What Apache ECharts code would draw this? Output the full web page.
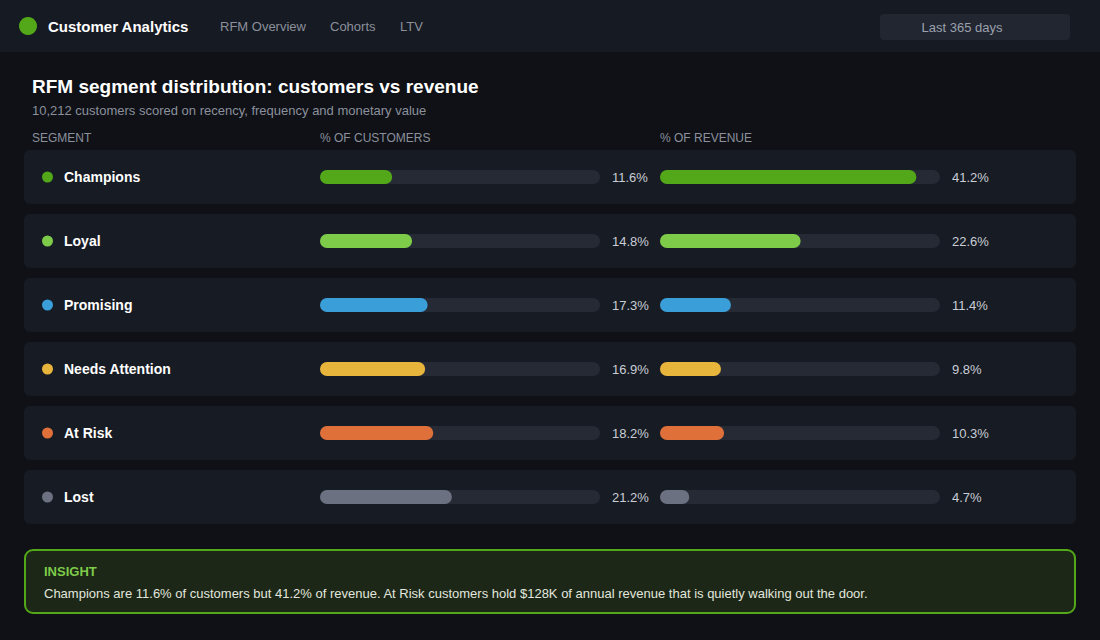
<!DOCTYPE html>
<html>
<head>
<meta charset="utf-8">
<title>RFM segment distribution</title>
<script src="https://cdn.jsdelivr.net/npm/echarts@6/dist/echarts.min.js"></script>
<style>
  html, body { margin: 0; padding: 0; background: #0f1116; }
  #chart { width: 1100px; height: 640px; }
</style>
</head>
<body>
<div id="chart"></div>
<script>
// data
var segments = ['Champions', 'Loyal', 'Promising', 'Needs Attention', 'At Risk', 'Lost'];
var customerPct = [11.6, 14.8, 17.3, 16.9, 18.2, 21.2];
var revenuePct = [41.2, 22.6, 11.4, 9.8, 10.3, 4.7];
var segmentColors = ['#52a818', '#7ecb4a', '#3a9fd8', '#e8b53c', '#e0703a', '#6b7180'];
var scaleMax = 45;
var navItems = ['RFM Overview', 'Cohorts', 'LTV'];

var FONT = '"Liberation Sans", Arial, Helvetica, sans-serif';

var chart = echarts.init(document.getElementById('chart'), null, { renderer: 'svg' });

// rich styles for the segment dots
var rich = { n: { color: '#ffffff', fontSize: 14, fontWeight: 'bold', fontFamily: FONT, padding: [0, 0, 0, 11] } };
segmentColors.forEach(function (c, i) {
  rich['c' + i] = { backgroundColor: c, width: 11, height: 11, borderRadius: 6 };
});

function pctLabels(arr) {
  return arr.map(function (v) { return v.toFixed(1) + '%'; });
}

function barGrid(left) {
  return { left: left, width: 280, top: 145, height: 384, outerBoundsMode: 'none', containLabel: false };
}

var trackStyle = { color: '#262a35', borderRadius: 7 };

function fillData(values) {
  return values.map(function (v, i) {
    return { value: v, itemStyle: { color: segmentColors[i], borderRadius: 7 } };
  });
}

var hiddenX = function (idx, max) {
  return { gridIndex: idx, type: 'value', min: 0, max: max, show: false };
};

function txt(x, y, text, font, fill, align) {
  return {
    type: 'text', x: x, y: y, silent: true,
    style: { text: text, font: font, fill: fill, textAlign: align || 'left', align: align || 'left', textVerticalAlign: 'middle', verticalAlign: 'middle' }
  };
}

function valueAxis(idx, values) {
  return {
    gridIndex: idx, type: 'category', inverse: true, position: 'right', data: pctLabels(values),
    axisLine: { show: false }, axisTick: { show: false }, splitLine: { show: false },
    axisLabel: { margin: 12, align: 'left', color: '#c9cdd6', fontSize: 13, fontFamily: FONT },
    z: 5
  };
}

var graphics = [
  // header bar
  { type: 'rect', shape: { x: 0, y: 0, width: 1100, height: 52 }, style: { fill: '#161a22' }, silent: true },
  { type: 'circle', shape: { cx: 28, cy: 26, r: 9 }, style: { fill: '#52a818' }, silent: true },
  txt(48, 26, 'Customer Analytics', 'bold 15px ' + FONT, '#ffffff'),
  { type: 'rect', shape: { x: 880, y: 14, width: 190, height: 26, r: 4 }, style: { fill: '#222631' }, silent: true },
  txt(962, 27, 'Last 365 days', '13px ' + FONT, '#9aa0ad', 'center'),
  // title block
  txt(32, 86, 'RFM segment distribution: customers vs revenue', 'bold 19px ' + FONT, '#ffffff'),
  txt(32, 110, '10,212 customers scored on recency, frequency and monetary value', '13px ' + FONT, '#8b909c'),
  txt(32, 138, 'SEGMENT', '12px ' + FONT, '#8b909c'),
  txt(320, 138, '% OF CUSTOMERS', '12px ' + FONT, '#8b909c'),
  txt(660, 138, '% OF REVENUE', '12px ' + FONT, '#8b909c'),
  // insight
  { type: 'rect', shape: { x: 25, y: 550, width: 1050, height: 63, r: 8 }, style: { fill: '#1c2717', stroke: '#52a818', lineWidth: 2 }, silent: true },
  txt(44, 571, 'INSIGHT', 'bold 13px ' + FONT, '#7ecb4a'),
  txt(44, 593, 'Champions are 11.6% of customers but 41.2% of revenue. At Risk customers hold $128K of annual revenue that is quietly walking out the door.', '13px ' + FONT, '#e2e6de')
];
var navX = [220, 330, 400];
navItems.forEach(function (t, i) {
  graphics.push(txt(navX[i], 26, t, '13px ' + FONT, '#8b909c'));
});

var option = {
  backgroundColor: '#0f1116',
  animation: false,
  textStyle: { fontFamily: FONT },
  graphic: graphics,
  grid: [
    { left: 24, width: 1052, top: 145, height: 384, outerBoundsMode: 'none', containLabel: false },
    barGrid(320),
    barGrid(660)
  ],
  xAxis: [hiddenX(0, 1), hiddenX(1, scaleMax), hiddenX(2, scaleMax)],
  yAxis: [
    {
      gridIndex: 0, type: 'category', inverse: true, data: segments,
      axisLine: { show: false }, axisTick: { show: false }, splitLine: { show: false },
      axisLabel: {
        inside: true, margin: 18, align: 'left',
        formatter: function (name) {
          return '{c' + segments.indexOf(name) + '| }{n|' + name + '}';
        },
        rich: rich
      },
      z: 5
    },
    valueAxis(1, customerPct),
    valueAxis(2, revenuePct)
  ],
  series: [
    {
      name: 'row', type: 'bar', xAxisIndex: 0, yAxisIndex: 0, silent: true,
      data: segments.map(function () { return 1; }),
      barWidth: 54, itemStyle: { color: '#171b23', borderRadius: 6 }, z: 1
    },
    {
      name: '% of customers', type: 'bar', xAxisIndex: 1, yAxisIndex: 1,
      data: fillData(customerPct), barWidth: 14,
      showBackground: true, backgroundStyle: trackStyle, z: 3
    },
    {
      name: '% of revenue', type: 'bar', xAxisIndex: 2, yAxisIndex: 2,
      data: fillData(revenuePct), barWidth: 14,
      showBackground: true, backgroundStyle: trackStyle, z: 3
    }
  ]
};

chart.setOption(option);
window.addEventListener('resize', chart.resize);
</script>
</body>
</html>
